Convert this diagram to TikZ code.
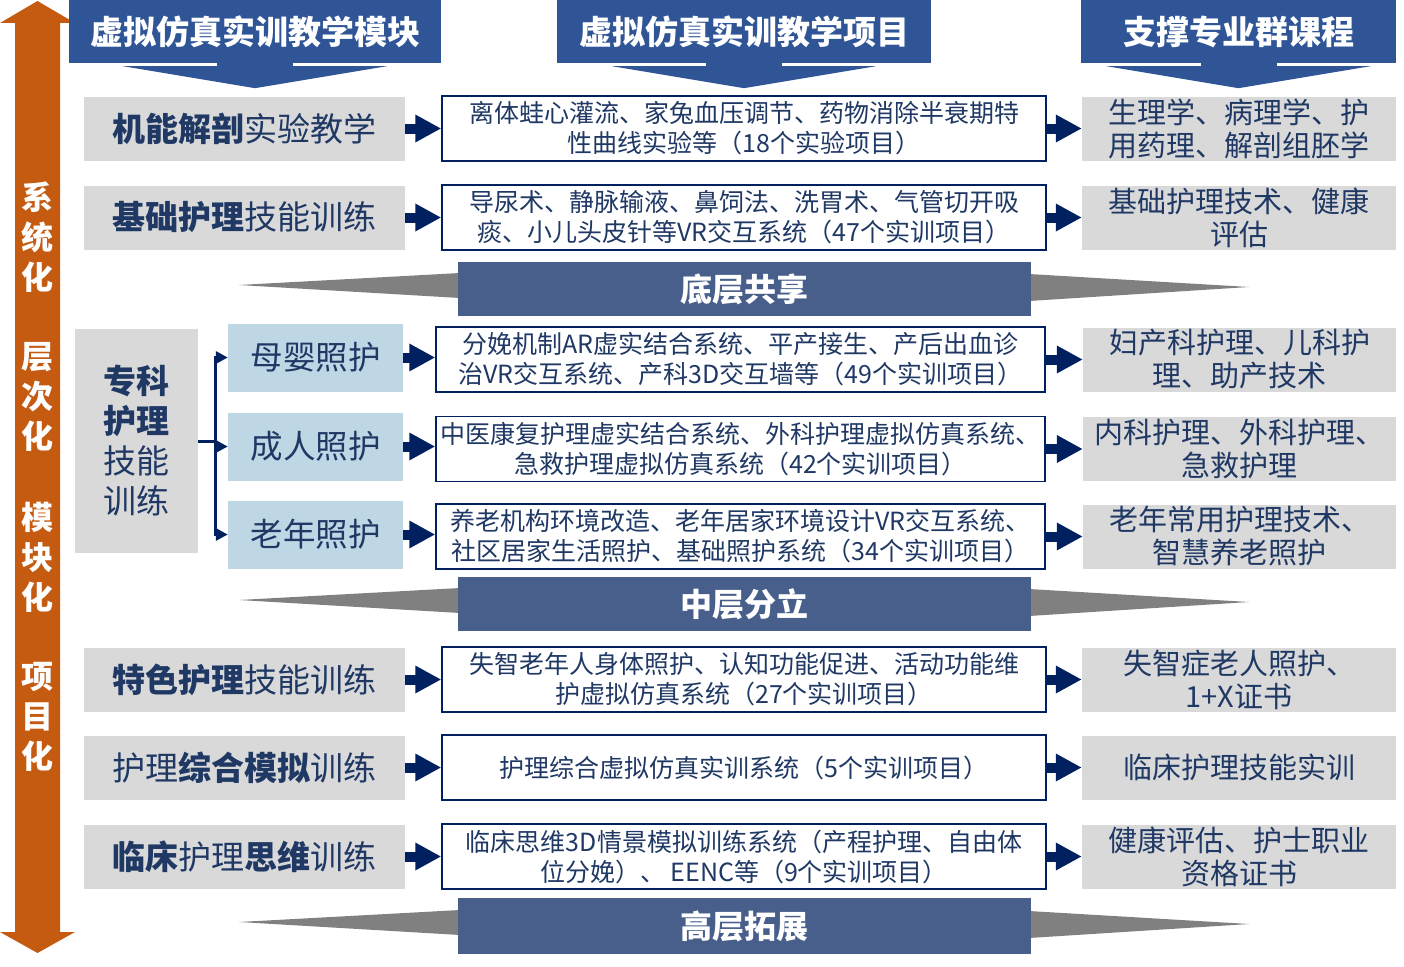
\documentclass[tikz,border=0pt]{standalone}
\usepackage{fontspec}
\setmainfont{Noto Sans CJK SC}
\usetikzlibrary{arrows.meta,calc}
\definecolor{OrangeBar}{HTML}{C55A11}
\definecolor{HeadBlue}{HTML}{2F5597}
\definecolor{LayerBlue}{HTML}{485F8B}
\definecolor{BoxGrey}{HTML}{D9D9D9}
\definecolor{CareBlue}{HTML}{BFD6E4}
\definecolor{TextNavy}{HTML}{1F3864}
\definecolor{ArrowNavy}{HTML}{002060}
\definecolor{WedgeGrey}{HTML}{808080}
\newcommand\fsz[2]{\fontsize{#1}{#2}\selectfont}
\tikzset{
  headbox/.style={fill=HeadBlue,text=white,font=\fsz{33}{36}\bfseries,minimum height=63pt,inner sep=0pt},
  layerbox/.style={fill=LayerBlue,text=white,font=\fsz{32}{36}\bfseries,minimum width=573pt,inner sep=0pt},
  leftbox/.style={fill=BoxGrey,text=TextNavy,font=\fsz{33}{36},minimum width=321pt,minimum height=64pt,inner sep=0pt},
  carebox/.style={fill=CareBlue,text=TextNavy,font=\fsz{32.5}{36},minimum width=175pt,minimum height=68pt,inner sep=0pt},
  midbox/.style={draw=ArrowNavy,line width=1.5pt,fill=white,text=TextNavy,align=center,font=\fsz{25}{30},minimum height=65pt,inner sep=0pt},
  rightbox/.style={fill=BoxGrey,text=TextNavy,align=center,font=\fsz{29}{33},minimum width=314pt,minimum height=64pt,inner sep=0pt},
  vtext/.style={text=white,align=center,font=\fsz{32}{40}\bfseries,inner sep=0pt},
  flow/.style={draw=ArrowNavy,line width=10pt,-{Triangle[length=26pt,width=26pt]}},
  fork/.style={draw=ArrowNavy,line width=3pt},
  forkarr/.style={fork,-{Triangle[length=12pt,width=12pt]}}
}
\begin{document}
\begin{tikzpicture}[x=1pt,y=-1pt]
  \useasboundingbox (0,0) rectangle (1404,966);
  % left double arrow
  \fill[OrangeBar] (15,932) -- (15,23) -- (0,23) -- (37.5,1) -- (75,23) -- (60,23) -- (60,932)
    -- (75,932) -- (37.5,953) -- (0,932) -- cycle;
  \foreach \g/\yy [count=\k] in {{系\\统\\化}/237,{层\\次\\化}/397,{模\\块\\化}/557,{项\\目\\化}/717}
    \node[vtext] (v\k) at (37.5,\yy) {\g};
  % column heads
  \foreach \n/\cx/\w/\title in {h1/255/372/虚拟仿真实训教学模块,h2/744/374/虚拟仿真实训教学项目,h3/1238.5/315/支撑专业群课程}{
    \node[headbox,minimum width=\w pt] (\n) at (\cx,31.5) {\title};
    \fill[HeadBlue] ($(\n.south)+(-132,3)$) -- ($(\n.south)+(132,3)$) -- ($(\n.south)+(0,25)$) -- cycle;
    \fill[HeadBlue] ($(\n.south)+(-38,-1)$) rectangle ($(\n.south)+(38,4)$);
  }
  % layer bars
  \foreach \n/\cy/\h/\title in {b1/289/54/底层共享,b2/604/54/中层分立,b3/926/56/高层拓展}{
    \fill[WedgeGrey] (460,{\cy-16}) -- (239,{\cy-4}) -- (460,{\cy+9}) -- cycle;
    \fill[WedgeGrey] (1029,{\cy-15}) -- (1249,{\cy-2}) -- (1029,{\cy+12}) -- cycle;
    \node[layerbox,minimum height=\h pt] (\n) at (744.5,\cy) {\title};
  }
  % single rows
  \foreach \r/\yy/\lt/\mt/\rt in {
    1/128.5/{\textbf{机能解剖}实验教学}/{离体蛙心灌流、家兔血压调节、药物消除半衰期特\\性曲线实验等（18个实验项目）}/{生理学、病理学、护\\用药理、解剖组胚学},
    2/217.5/{\textbf{基础护理}技能训练}/{导尿术、静脉输液、鼻饲法、洗胃术、气管切开吸\\痰、小儿头皮针等VR交互系统（47个实训项目）}/{基础护理技术、健康\\评估},
    6/679.5/{\textbf{特色护理}技能训练}/{失智老年人身体照护、认知功能促进、活动功能维\\护虚拟仿真系统（27个实训项目）}/{失智症老人照护、\\1+X证书},
    7/767.5/{护理\textbf{综合模拟}训练}/{护理综合虚拟仿真实训系统（5个实训项目）}/{临床护理技能实训},
    8/856.5/{\textbf{临床}护理\textbf{思维}训练}/{临床思维3D情景模拟训练系统（产程护理、自由体\\位分娩）、 EENC等（9个实训项目）}/{健康评估、护士职业\\资格证书}}{
    \node[leftbox] (l\r) at (244.5,\yy) {\lt};
    \node[midbox,minimum width=604pt] (m\r) at (744,\yy) {\mt};
    \node[rightbox] (r\r) at (1239,\yy) {\rt};
    \draw[flow] (l\r.east) -- (m\r.west);
    \draw[flow] (m\r.east) -- (r\r.west);
  }
  % specialist nursing block
  \node[fill=BoxGrey,text=TextNavy,align=center,font=\fsz{33}{40},minimum width=123pt,minimum height=224pt,inner sep=0pt]
    (zk) at (136.5,441) {\textbf{专科}\\\textbf{护理}\\技能\\训练};
  \draw[fork] (zk.east) -- ++(17,0) coordinate (fk);
  \foreach \r/\cy/\my/\ct/\mt/\rt in {
    3/357.5/359.5/母婴照护/{分娩机制AR虚实结合系统、平产接生、产后出血诊\\治VR交互系统、产科3D交互墙等（49个实训项目）}/{妇产科护理、儿科护\\理、助产技术},
    4/446.5/449/成人照护/{中医康复护理虚实结合系统、外科护理虚拟仿真系统、\\急救护理虚拟仿真系统（42个实训项目）}/{内科护理、外科护理、\\急救护理},
    5/534.5/536.5/老年照护/{养老机构环境改造、老年居家环境设计VR交互系统、\\社区居家生活照护、基础照护系统（34个实训项目）}/{老年常用护理技术、\\智慧养老照护}}{
    \node[carebox] (c\r) at (315.5,\cy) {\ct};
    \node[midbox,minimum width=609pt] (m\r) at (740.5,\my) {\mt};
    \node[rightbox,minimum width=313pt] (r\r) at (1239.5,\my) {\rt};
    \draw[forkarr] (fk) |- (c\r.west);
    \draw[flow] (c\r.east) -- (c\r.east -| m\r.west);
    \draw[flow] (m\r.east) -- (r\r.west);
  }
\end{tikzpicture}
\end{document}
